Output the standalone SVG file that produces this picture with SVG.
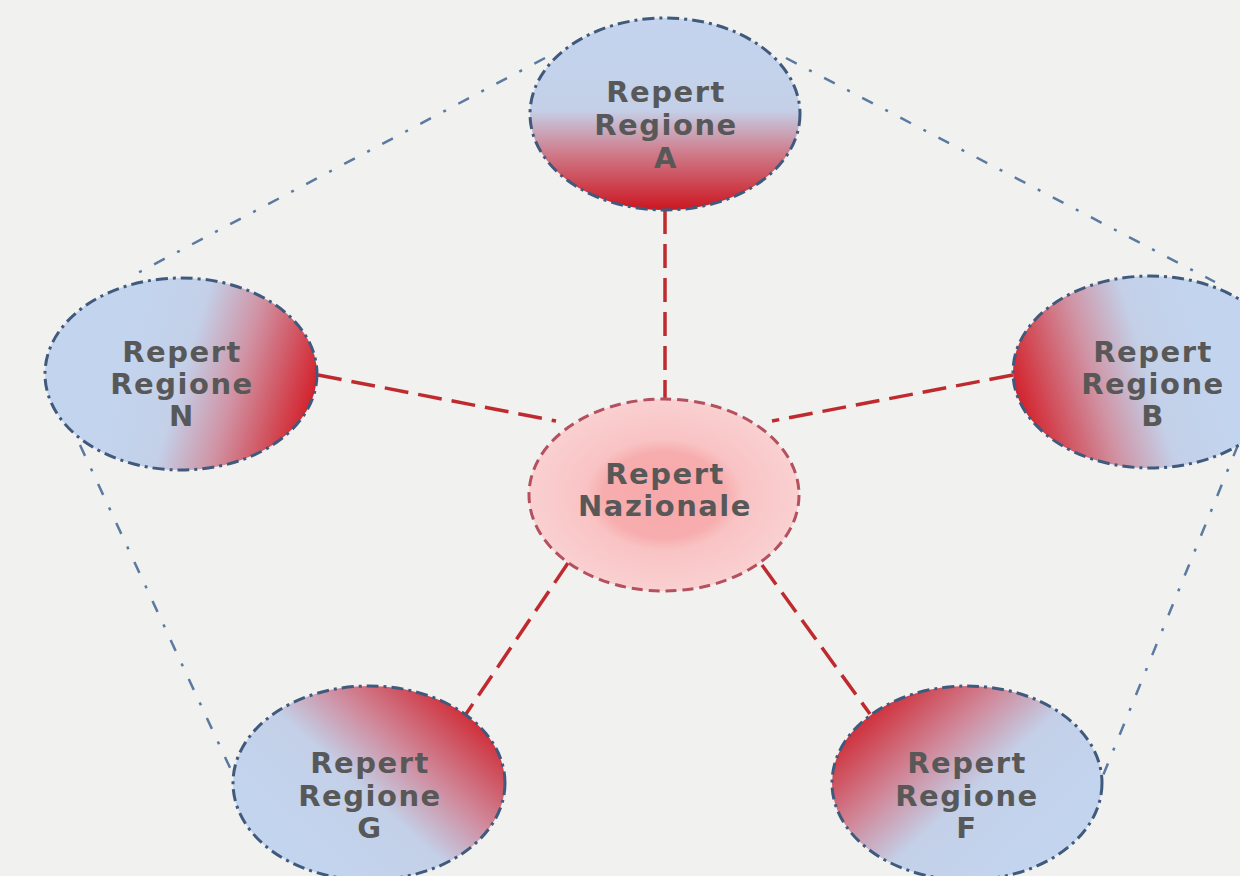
<svg xmlns="http://www.w3.org/2000/svg" width="1240" height="876" viewBox="0 0 1240 876">
<style>
.bg{fill:#f1f1ef}
.reg{stroke:#3f5a7c;stroke-width:3;stroke-dasharray:12 5 3 5}
.nat{stroke:#b5505e;stroke-width:3;stroke-dasharray:11 6}
.lbl{font-family:"DejaVu Sans","Liberation Sans",Arial,sans-serif;font-weight:bold;font-size:29px;letter-spacing:1.5px;fill:#585858;text-anchor:middle}
.red{fill:none;stroke:#bf2a2f;stroke-width:3.5;stroke-dasharray:24 10}
.blue{fill:none;stroke:#5a7aa0;stroke-width:2.5;stroke-dasharray:12 14 3 14}
</style>
<defs>
<linearGradient id="gA" x1="0" y1="0" x2="0" y2="1">
<stop offset="0" stop-color="#c3d4ee"/><stop offset="0.48" stop-color="#c4d0e8"/><stop offset="0.7" stop-color="#cf7d8c"/><stop offset="1" stop-color="#cc1620"/>
</linearGradient>
<linearGradient id="gN" x1="0.3" y1="0.45" x2="1" y2="0.6">
<stop offset="0" stop-color="#c3d4ee"/><stop offset="0.3" stop-color="#c3d0e8"/><stop offset="0.58" stop-color="#d093a4"/><stop offset="1" stop-color="#d31f28"/>
</linearGradient>
<linearGradient id="gB" x1="0.7" y1="0.45" x2="0" y2="0.6">
<stop offset="0" stop-color="#c3d4ee"/><stop offset="0.3" stop-color="#c3d0e8"/><stop offset="0.58" stop-color="#d093a4"/><stop offset="1" stop-color="#d31f28"/>
</linearGradient>
<linearGradient id="gG" x1="0.25" y1="0.75" x2="0.95" y2="0.2">
<stop offset="0" stop-color="#c3d4ee"/><stop offset="0.35" stop-color="#c3d0e8"/><stop offset="0.62" stop-color="#d08a9c"/><stop offset="1" stop-color="#cf2630"/>
</linearGradient>
<linearGradient id="gF" x1="0.75" y1="0.75" x2="0.05" y2="0.2">
<stop offset="0" stop-color="#c3d4ee"/><stop offset="0.35" stop-color="#c3d0e8"/><stop offset="0.62" stop-color="#d08a9c"/><stop offset="1" stop-color="#cf2630"/>
</linearGradient>
<radialGradient id="gC" cx="0.5" cy="0.5" r="0.5">
<stop offset="0" stop-color="#f7a8aa"/><stop offset="0.45" stop-color="#f7adae"/><stop offset="0.58" stop-color="#f9c3c4"/><stop offset="1" stop-color="#fad0d0"/>
</radialGradient>
</defs>
<rect class="bg" x="0" y="0" width="1240" height="876"/>
<g id="connectors">
<line class="blue" x1="545" y1="58" x2="132" y2="276"/>
<line class="blue" x1="786" y1="58" x2="1215" y2="282"/>
<line class="blue" x1="80" y1="445" x2="238" y2="785"/>
<line class="blue" x1="1238" y1="445" x2="1102" y2="778"/>
<line class="red" x1="665" y1="210" x2="665" y2="398"/>
<line class="red" x1="318" y1="375" x2="556" y2="421"/>
<line class="red" x1="1013" y1="375" x2="772" y2="421"/>
<line class="red" x1="568" y1="563" x2="466" y2="714"/>
<line class="red" x1="762" y1="565" x2="870" y2="714"/>
</g>
<g id="nodeA">
<ellipse class="reg" cx="665" cy="114" rx="135" ry="96" fill="url(#gA)"/>
<text class="lbl" x="666" y="102">Repert</text>
<text class="lbl" x="666" y="135">Regione</text>
<text class="lbl" x="666" y="168">A</text>
</g>
<g id="nodeN">
<ellipse class="reg" cx="181" cy="374" rx="136" ry="96" fill="url(#gN)"/>
<text class="lbl" x="182" y="362">Repert</text>
<text class="lbl" x="182" y="394">Regione</text>
<text class="lbl" x="182" y="426">N</text>
</g>
<g id="nodeB">
<ellipse class="reg" cx="1150" cy="372" rx="137" ry="96" fill="url(#gB)"/>
<text class="lbl" x="1153" y="362">Repert</text>
<text class="lbl" x="1153" y="394">Regione</text>
<text class="lbl" x="1153" y="426">B</text>
</g>
<g id="nodeG">
<ellipse class="reg" cx="369" cy="783" rx="136" ry="97" fill="url(#gG)"/>
<text class="lbl" x="370" y="773">Repert</text>
<text class="lbl" x="370" y="806">Regione</text>
<text class="lbl" x="370" y="838">G</text>
</g>
<g id="nodeF">
<ellipse class="reg" cx="967" cy="783" rx="135" ry="97" fill="url(#gF)"/>
<text class="lbl" x="967" y="773">Repert</text>
<text class="lbl" x="967" y="806">Regione</text>
<text class="lbl" x="967" y="838">F</text>
</g>
<g id="nodeCenter">
<ellipse class="nat" cx="664" cy="495" rx="135" ry="96" fill="url(#gC)"/>
<text class="lbl" x="665" y="484">Repert</text>
<text class="lbl" x="665" y="516">Nazionale</text>
</g>
</svg>
